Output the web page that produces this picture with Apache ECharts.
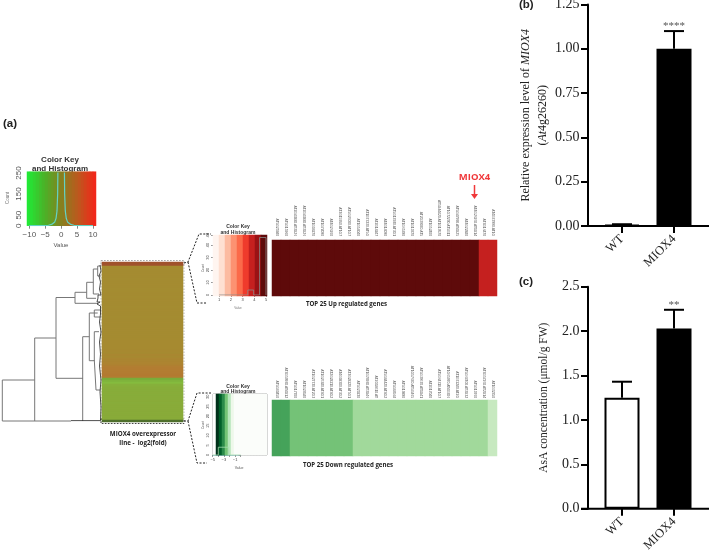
<!DOCTYPE html>
<html>
<head>
<meta charset="utf-8">
<title>MIOX4</title>
<script src="https://cdn.jsdelivr.net/npm/echarts@6/dist/echarts.min.js"></script>
<style>
html,body{margin:0;padding:0;background:#fff}
#chart{width:709px;height:554px}
</style>
</head>
<body>
<div id="chart"></div>
<script>
// bar panels (b) and (c)
var barCats = ["WT", "MIOX4"];
var exprValues = [0.005, 1.0];
var exprTops = [0.01, 1.1];
var exprStars = ["", "****"];
var asaValues = [1.25, 2.03];
var asaTops = [1.43, 2.24];
var asaStars = ["", "**"];

// whole genome heatmap, one log2(fold) per row, top to bottom
var mainFold = [5, 5, 1.8, 1.7, 1.6, 1.6, 1.7, 1.6, 1.5, 1.6, 1.6, 1.7, 1.6, 1.5, 1.5, 1.6, 1.6, 1.5, 1.6, 1.7,
  1.6, 1.6, 1.5, 1.6, 1.7, 1.6, 1.6, 1.5, 1.6, 1.6, 1.7, 1.6, 1.6, 1.7, 1.7, 1.8, 1.7, 1.8, 1.8, 1.9,
  1.9, 2, 1.9, 2, 2.1, 2, 2.2, 2.1, 2.3, 2.4, 2.5, 2.6, 2.9, 3.1, 3, 3.1, 3.2, 3.1, -3.2, -3.1,
  -3, -2.2, -2.1, -2, -2, -1.9, -2, -1.9, -1.9, -1.8, -1.9, -1.8, -1.8, -1.8, -1.7, -1.8, -1.7, -1.8, -1.8, -4];
var mainStops = ["#4f6f2c", "#84bb3e", "#87ad3a", "#8fa336", "#9a9433", "#a28d32", "#a68a30", "#b37d32", "#b36e2f", "#a0522d", "#8a3a20"];

// colour key with density line
var keyCells = [-11, -10, -9, -8, -7, -6, -5, -4, -3, -2, -1, 0, 1, 2, 3, 4, 5, 6, 7, 8, 9, 10, 11];
var keyStops = ["#22e835", "#4bb128", "#86801f", "#bb5a1e", "#f0281a"];
var keyDensity = [[-10, 0], [-6, 0], [-4, 2], [-3, 6], [-2.5, 10], [-2, 18], [-1.6, 35], [-1.3, 70], [-1.1, 150], [-1, 300],
  [1, 300], [1.1, 150], [1.3, 70], [1.6, 35], [2, 18], [2.5, 10], [3, 6], [4, 2], [6, 0], [10, 0]];

// dendrogram: height, leaf position
var dendroLight = [
  [[67.3, 118], [99.7, 118], [99.7, 159], [31, 159]],
  [[46, 76], [67.3, 76], [67.3, 159]],
  [[27, 35.5], [46, 35.5], [46, 116.3], [19, 116.3]],
  [[15.3, 30.3], [27, 30.3], [27, 41.3], [4.3, 41.3]],
  [[8.7, 20.3], [15.3, 20.3], [15.3, 36.3], [6, 36.3]],
  [[4.3, 7], [8.7, 7], [8.7, 32], [3, 32]],
  [[1.5, 4], [4.3, 4], [4.3, 14], [1, 14]],
  [[12.7, 74.7], [19.3, 74.7], [19.3, 159]],
  [[4.3, 51], [12.7, 51], [12.7, 98.7], [7.7, 98.7]],
  [[7.7, 98.7], [7.7, 69.7], [3, 69.7]],
  [[7.7, 98], [6, 98], [6, 128], [1.5, 128]],
  [[1.5, 48], [7.7, 48], [7.7, 55], [1.5, 55]]
];
var dendroDark = [
  [[2, 3], [1, 3], [1, 9], [3, 9], [3, 14], [1.5, 14], [1.5, 20], [2.5, 20], [2.5, 27], [1, 27], [1, 33], [4, 33], [4, 36], [2, 36],
    [2, 38], [5, 38], [5, 40], [2, 40], [2, 42], [5, 42], [5, 44], [1.5, 44], [1.5, 52], [2.5, 52], [2.5, 60], [1, 60], [1, 70],
    [2.5, 70], [2.5, 80], [1.5, 80], [1.5, 92], [2.5, 92], [2.5, 104], [1, 104], [1, 118], [2, 118], [2, 130], [1, 130], [1, 145],
    [1.5, 145], [1.5, 158]],
  [[31, 158.6], [1, 158.6]]
];

// top 25 up
var upGenes = ["AT5G25980", "AT5G15960", "AT2G43880.AT3G26", "AT2G43880.AT3G26", "AT1G04270", "AT1G78090", "AT4G26260", "AT3G15950.AT1G7", "AT5G26000.AT1G7",
  "AT1G54040", "AT1G73330.AT5G", "AT2G14247", "AT4G14090", "AT5G13930.AT3G1", "AT1G65390", "AT1G10370", "AT2G39030.AT5", "AT1G52400",
  "AT5G44420.AT1G19570", "AT1G72290.AT5G11", "AT5G47990.AT4G25", "AT4G22880", "AT4G26260.AT1G14", "AT3G16470", "AT4G37990.AT1G"];
var upFold = [4.75, 4.75, 4.75, 4.75, 4.75, 4.75, 4.75, 4.75, 4.75, 4.75, 4.75, 4.75, 4.75, 4.75, 4.75, 4.75, 4.75, 4.75, 4.75, 4.75, 4.75, 4.75, 4.75, 3.75, 3.75];
var upKeyCells = [0.75, 1.25, 1.75, 2.25, 2.75, 3.25, 3.75, 4.25, 4.75];
var upKeyStops = ["#fff5f0", "#fee0d2", "#fcbba1", "#fc9272", "#fb6a4a", "#ef3b2c", "#c5201f", "#9a1215", "#5e0a0a"];
var upHist = [[1, 0], [3.45, 0], [3.45, 4], [3.95, 4], [3.95, 0], [4.45, 0], [4.45, 46], [5, 46], [5, 0]];

// top 25 down
var downGenes = ["AT5G40450", "AT3G59930.AT4G12", "AT5G17700", "AT1G24580", "AT1G27730.AT2G3", "AT1G26380.AT4G1", "AT2G28210.AT4G2", "AT4G08300.AT3G2", "AT3G28220.AT5G1",
  "AT5G20230", "AT1G74930.AT3G46", "AT2G14610.AT", "AT5G44420.AT4G2", "AT5G44568", "AT5G19890", "AT1G57630.AT5G465", "AT5G39670.AT1G41", "AT2G17040",
  "AT5G64310.AT1G7", "AT1G65970.AT4G306", "AT1G72280.AT2G", "AT5G67400.AT3G32", "AT5G10760", "AT3G57260.AT2G14", "AT1G32350"];
var downFold = [-4, -4, -3, -3, -3, -3, -3, -3, -3, -2, -2, -2, -2, -2, -2, -2, -2, -2, -2, -2, -2, -2, -2, -2, -1];
var downStops = ["#45a35a", "#74c277", "#a1d99b", "#c7e9c0"];
var downKeyCells = [0, 1, 2, 3, 4, 5, 6, 7, 7, 7, 7, 7, 7, 7, 7, 7, 7, 7];
var downKeyStops = ["#ffffff", "#00301a", "#00602a", "#2a8a4a", "#74c476", "#b5e5bb", "#eef8ea", "#fbfdfa"];
var downHist = [[-5, 0], [-4, 0], [-4, 4], [-2.2, 4], [-2.2, 0], [0, 0]];

var serif = "Liberation Serif", sans = "Liberation Sans", openSans = "Open Sans";

var grids = [], xAxes = [], yAxes = [], series = [], visualMaps = [], graphics = [];

function addGrid(left, top, width, height, xAxis, yAxis) {
  var i = grids.length;
  grids.push({left: left, top: top, width: width, height: height, outerBoundsMode: "none"});
  xAxis.gridIndex = i;
  yAxis.gridIndex = i;
  xAxes.push(xAxis);
  yAxes.push(yAxis);
  return i;
}

var hidden = {show: false, axisLine: {show: false}, axisTick: {show: false}, axisLabel: {show: false}, splitLine: {show: false}};
function hiddenAxis(type, extra) {
  return Object.assign({type: type}, hidden, extra || {});
}

function text(x, y, str, font, fill, extra) {
  graphics.push({
    type: "text", x: x, y: y, rotation: (extra && extra.rotation) || 0, silent: true,
    style: {text: str, font: font, fill: fill || "#222", align: (extra && extra.align) || "center", verticalAlign: "middle", lineHeight: extra && extra.lineHeight}
  });
}
function polyline(points, color, width, dash) {
  graphics.push({type: "polyline", silent: true, shape: {points: points}, style: {stroke: color, lineWidth: width, fill: null, lineDash: dash || null}});
}
function dashRect(x, y, w, h, color) {
  graphics.push({type: "rect", silent: true, shape: {x: x, y: y, width: w, height: h}, style: {stroke: color, lineWidth: 1, fill: null, lineDash: [1.5, 1.5]}});
}

// one heatmap on category axes, coloured by its own visualMap
function addHeat(left, top, width, height, rows, horizontal, stops, lo, hi, xAxisExtra) {
  var xCats = horizontal ? rows.map(function (v, i) { return i; }) : [""];
  var yCats = horizontal ? [""] : rows.map(function (v, i) { return i; });
  var g = addGrid(left, top, width, height,
    Object.assign({type: "category", data: xCats, axisLine: {show: false}, axisTick: {show: false}, axisLabel: {show: false}, splitLine: {show: false}}, xAxisExtra || {}),
    {type: "category", data: yCats, inverse: !horizontal, axisLine: {show: false}, axisTick: {show: false}, axisLabel: {show: false}, splitLine: {show: false}});
  series.push({
    type: "heatmap", xAxisIndex: g, yAxisIndex: g, animation: false, silent: true,
    data: rows.map(function (v, i) { return horizontal ? [i, 0, v] : [0, i, v]; })
  });
  visualMaps.push({show: false, type: "continuous", seriesIndex: series.length - 1, min: lo, max: hi, inRange: {color: stops}, calculable: false});
  return g;
}

function addLine(g, data, color, width) {
  series.push({
    type: "line", xAxisIndex: g, yAxisIndex: g, data: data, showSymbol: false, symbol: "none", silent: true,
    lineStyle: {color: color, width: width}, z: 5, animation: false
  });
}

// segments to one line series with gaps
function withGaps(segments) {
  var out = [];
  segments.forEach(function (s) {
    out = out.concat(s);
    out.push(["-", "-"]);
  });
  return out;
}

function addBarPanel(top, height, max, interval, digits, values, tops, stars, yName, nameGap, nameLine, nameSize) {
  var g = addGrid(596, top, 104, height,
    {type: "category", data: barCats, axisLine: {show: false},
      axisTick: {show: true, alignWithLabel: true, length: 7, lineStyle: {color: "#000", width: 2}},
      axisLabel: {rotate: 45, margin: 11, interval: 0, fontFamily: serif, fontSize: 12.5, color: "#222"}},
    {type: "value", min: 0, max: max, interval: interval, offset: 8,
      axisLine: {show: true, lineStyle: {color: "#000", width: 2}},
      axisTick: {show: true, length: 7, lineStyle: {color: "#000", width: 2}},
      axisLabel: {margin: 8.5, fontFamily: serif, fontSize: 14, color: "#222", formatter: function (v) { return v.toFixed(digits); }},
      splitLine: {show: false},
      name: yName, nameLocation: "middle", nameRotate: 90, nameGap: nameGap,
      nameTextStyle: {fontFamily: serif, fontSize: nameSize, color: "#222", lineHeight: nameLine,
        rich: {n: {fontFamily: serif, fontSize: nameSize, color: "#222", lineHeight: nameLine}, i: {fontFamily: serif, fontSize: nameSize, fontStyle: "italic", color: "#222", lineHeight: nameLine}}}});
  series.push({
    type: "bar", xAxisIndex: g, yAxisIndex: g, barWidth: 35, animation: false, silent: true,
    data: values.map(function (v, i) {
      return {value: v, itemStyle: {color: i === 0 ? "#fff" : "#000", borderColor: "#000", borderWidth: 2}};
    })
  });
  series.push({
    type: "custom", xAxisIndex: g, yAxisIndex: g, animation: false, silent: true, z: 6,
    data: tops.map(function (t, i) { return [i, values[i], t, stars[i]]; }),
    renderItem: function (params, api) {
      var base = api.coord([api.value(0), api.value(1)]);
      var end = api.coord([api.value(0), api.value(2)]);
      var style = {stroke: "#000", lineWidth: 2, fill: null};
      return {type: "group", children: [
        {type: "line", shape: {x1: base[0], y1: base[1], x2: end[0], y2: end[1]}, style: style},
        {type: "line", shape: {x1: end[0] - 10, y1: end[1], x2: end[0] + 10, y2: end[1]}, style: style},
        {type: "text", style: {x: end[0], y: end[1] + 1, text: stars[params.dataIndex], fill: "#555", font: "11px " + serif, align: "center", verticalAlign: "bottom"}}
      ]};
    }
  });
  // axis base line runs past the bars on both sides
  polyline([[581, top + height], [709, top + height]], "#000", 2);
}

addBarPanel(4.5, 221.5, 1.25, 0.25, 2, exprValues, exprTops, exprStars,
  "{n|Relative expression level of }{i|MIOX4}\n{n|(}{i|At}{n|4g26260)}", 37, 17, 12);
addBarPanel(286.7, 222, 2.5, 0.5, 1, asaValues, asaTops, asaStars,
  "{n|AsA concentration (\u03bcmol/g FW)}", 36, 17, 11.5);

// (a) colour key
addHeat(27, 171.7, 69, 54, keyCells, true, keyStops, -11, 11);
var keyAxisStyle = {show: true, lineStyle: {color: "#666", width: 0.8}};
var gKey = addGrid(29.3, 173, 63.7, 52.7,
  {type: "value", min: -10, max: 10, interval: 5, axisLine: keyAxisStyle, axisTick: {show: true, length: 3, lineStyle: {color: "#666", width: 0.8}},
    axisLabel: {margin: 5, fontFamily: sans, fontSize: 8, color: "#555", formatter: function (v) { return String(v).replace("-", "\u2212"); }}, splitLine: {show: false}},
  {type: "value", min: 0, max: 250, interval: 50, offset: 2, axisLine: keyAxisStyle, axisTick: {show: true, length: 3, lineStyle: {color: "#666", width: 0.8}},
    axisLabel: {rotate: 90, margin: 5, fontFamily: sans, fontSize: 8, color: "#555", showMinLabel: true, formatter: function (v) { return (v === 100 || v === 200) ? "" : v; }}, splitLine: {show: false}});
addLine(gKey, keyDensity, "#62d3c4", 1.2);
text(60, 160, "Color Key", "bold 8px " + sans, "#333");
text(60, 169, "and Histogram", "bold 8px " + sans, "#333");
text(61, 245, "Value", "6px " + sans, "#555");
text(8, 198, "Count", "4.5px " + sans, "#777", {rotation: Math.PI / 2});

// dendrogram
var gDendro = addGrid(1, 262, 101, 160,
  hiddenAxis("value", {min: 0, max: 101, inverse: true}),
  hiddenAxis("value", {min: 0, max: 160, inverse: true}));
addLine(gDendro, withGaps(dendroLight), "#777", 1);
addLine(gDendro, withGaps(dendroDark), "#222", 0.8);

// main heatmap
addHeat(102, 262, 81, 160, mainFold, false, mainStops, -4, 6);
dashRect(101, 260.5, 83, 163, "#bbb");
dashRect(101, 260.5, 83, 4.5, "#aaa");
dashRect(101, 419, 83, 4.5, "#444");
text(143, 434, "MIOX4 overexpressor", "bold 6.2px " + openSans, "#222");
text(143, 443, "line -  log2(fold)", "bold 6.2px " + openSans, "#222");

// callouts
polyline([[184, 263], [188, 262], [199, 234], [211, 234]], "#222", 1, [2, 1.5]);
polyline([[188, 262], [197, 303], [207, 303]], "#222", 1, [2, 1.5]);
polyline([[184, 421], [188, 421], [197, 393], [211, 393]], "#222", 1, [2, 1.5]);
polyline([[188, 421], [197, 463], [207, 463]], "#222", 1, [2, 1.5]);

var smallAxis = {show: true, lineStyle: {color: "#5aa", width: 0.6}};
var smallTick = {show: true, length: 2, lineStyle: {color: "#555", width: 0.6}};
function smallLabel(extra) {
  return Object.assign({fontFamily: sans, fontSize: 4, color: "#444", margin: 3}, extra || {});
}

// up key
addHeat(213, 235, 54, 61, upKeyCells, true, upKeyStops, 0.75, 4.75);
var gUpKey = addGrid(219, 235, 47, 60,
  {type: "value", min: 1, max: 5, interval: 1, axisLine: smallAxis, axisTick: smallTick, axisLabel: smallLabel(), splitLine: {show: false}},
  {type: "value", min: 0, max: 48, interval: 10, offset: 6, axisLine: {show: false}, axisTick: smallTick, axisLabel: smallLabel({rotate: 90}), splitLine: {show: false}});
addLine(gUpKey, upHist, "#888", 0.8);
text(238, 227, "Color Key", "bold 5px " + sans, "#333");
text(238, 233, "and Histogram", "bold 5px " + sans, "#333");
text(238, 308, "Value", "3px " + sans, "#777");
text(203, 268, "Count", "3px " + sans, "#555", {rotation: Math.PI / 2});

// up heatmap
addHeat(272, 240, 225, 56, upFold, true, upKeyStops, 0.75, 4.75, {
  type: "category", position: "top", data: upGenes,
  axisLabel: {show: true, interval: 0, rotate: 90, margin: 4, fontFamily: sans, fontSize: 3.3, color: "#555"}
});
text(346.5, 304, "TOP 25 Up regulated genes", "bold 6.1px " + openSans, "#222");
text(474.5, 177, "MIOX4", "bold 9.5px " + openSans, "#f0383a");
polyline([[474.5, 185], [474.5, 195]], "#f0383a", 1.5);
graphics.push({type: "polygon", silent: true, shape: {points: [[471, 194], [478, 194], [474.5, 199]]}, style: {fill: "#f0383a"}});

// down key
addHeat(213, 394, 54, 61, downKeyCells, true, downKeyStops, 0, 7);
graphics.push({type: "rect", silent: true, shape: {x: 213, y: 394, width: 54, height: 61}, style: {stroke: "#999", lineWidth: 1, fill: null}});
var gDownKey = addGrid(212.7, 396.7, 28, 58.3,
  {type: "value", min: -5, max: 0, interval: 1, axisLine: smallAxis, axisTick: smallTick,
    axisLabel: smallLabel({formatter: function (v) { return Math.abs(v) % 2 === 1 ? String(v).replace("-", "\u2212") : ""; }}), splitLine: {show: false}},
  {type: "value", min: 0, max: 30, interval: 5, axisLine: {show: false}, axisTick: smallTick, axisLabel: smallLabel({rotate: 90}), splitLine: {show: false}});
addLine(gDownKey, downHist, "#a5dcae", 0.8);
text(238, 387, "Color Key", "bold 5px " + sans, "#333");
text(238, 392, "and Histogram", "bold 5px " + sans, "#333");
text(239, 468, "Value", "3.5px " + sans, "#555");
text(203, 425, "Count", "3px " + sans, "#555", {rotation: Math.PI / 2});

// down heatmap
addHeat(272, 400, 225, 56, downFold, true, downStops, -4, -1, {
  type: "category", position: "top", data: downGenes,
  axisLabel: {show: true, interval: 0, rotate: 90, margin: 2, fontFamily: sans, fontSize: 3.3, color: "#555"}
});
text(348, 465.5, "TOP 25 Down regulated genes", "bold 6.1px " + openSans, "#222");

// panel letters
text(3, 124, "(a)", "bold 11.5px " + sans, "#222", {align: "left"});
text(519, 5, "(b)", "bold 11.5px " + sans, "#222", {align: "left"});
text(519, 282, "(c)", "bold 11.5px " + sans, "#222", {align: "left"});

var chart = echarts.init(document.getElementById("chart"));
chart.setOption({
  backgroundColor: "#fff",
  animation: false,
  grid: grids,
  xAxis: xAxes,
  yAxis: yAxes,
  visualMap: visualMaps,
  series: series,
  graphic: {elements: graphics}
});
</script>
</body>
</html>
